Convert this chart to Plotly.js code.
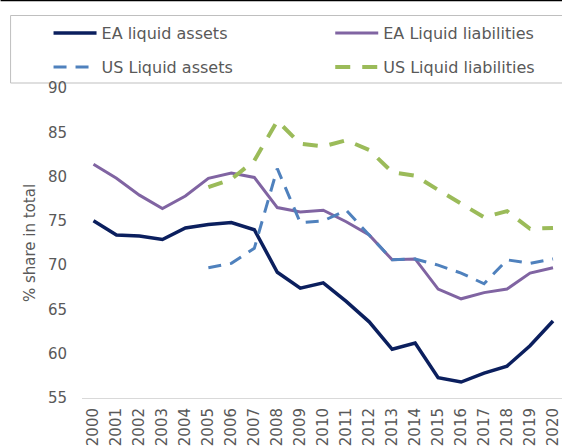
<!DOCTYPE html>
<html>
<head>
<meta charset="utf-8">
<script src="https://cdn.plot.ly/plotly-3.0.1.min.js"></script>
<style>html,body{margin:0;padding:0;background:#fff;}#chart{width:562px;height:448px;}</style>
</head>
<body>
<div id="chart"></div>
<script>
const years = ["2000","2001","2002","2003","2004","2005","2006","2007","2008","2009","2010","2011","2012","2013","2014","2015","2016","2017","2018","2019","2020"];
const eaAssets = [75.0,73.4,73.3,72.9,74.2,74.6,74.8,74.0,69.2,67.4,68.0,65.9,63.6,60.5,61.2,57.3,56.8,57.8,58.6,60.9,63.7];
const eaLiabilities = [81.4,79.8,77.9,76.4,77.8,79.8,80.4,79.9,76.5,76.0,76.2,74.9,73.4,70.6,70.7,67.3,66.2,66.9,67.3,69.1,69.7];
const usYears = ["2005","2006","2007","2008","2009","2010","2011","2012","2013","2014","2015","2016","2017","2018","2019","2020"];
const usAssets = [69.7,70.2,71.9,80.9,74.8,75.0,76.2,73.4,70.6,70.7,70.0,69.1,67.9,70.6,70.2,70.7];
const usLiabilities = [78.8,79.7,81.8,86.3,83.7,83.4,84.1,83.0,80.5,80.1,78.5,77.0,75.4,76.1,74.1,74.2];
const yTicks = [55,60,65,70,75,80,85,90];

const font = "DejaVu Sans, Verdana, sans-serif";
const grey = "#595959";

const traces = [
  {x: years, y: eaAssets, name: "EA liquid assets", type: "scatter", mode: "lines",
   line: {color: "#0b1f5e", width: 3.5}, legend: "legend"},
  {x: years, y: eaLiabilities, name: "EA Liquid liabilities", type: "scatter", mode: "lines",
   line: {color: "#8064a2", width: 3}, legend: "legend2"},
  {x: usYears, y: usAssets, name: "US Liquid assets", type: "scatter", mode: "lines",
   line: {color: "#4f81bd", width: 3, dash: "13px,9px"}, legend: "legend3"},
  {x: usYears, y: usLiabilities, name: "US Liquid liabilities", type: "scatter", mode: "lines",
   line: {color: "#9bbb59", width: 4, dash: "15px,12px"}, legend: "legend4"}
];

const plotL = 81.5, plotT = 88, plotB = 398, plotW = 562 - 81.5, plotH = plotB - plotT;
const px = v => (v - plotL) / plotW;
const py = v => (plotB - v) / plotH;

const legendCommon = {
  orientation: "h", xanchor: "left", yanchor: "middle",
  bgcolor: "rgba(0,0,0,0)", borderwidth: 0,
  font: {family: font, size: 16, color: grey},
  itemwidth: 43
};
const col1 = 48, col2 = 48 + 282, row1 = 33, row2 = 67;

const layout = {
  width: 562, height: 448,
  margin: {l: 81.5, r: 0, t: 88, b: 50, pad: 0},
  paper_bgcolor: "#fff", plot_bgcolor: "#fff",
  font: {family: font, color: grey},
  showlegend: true,
  legend: Object.assign({}, legendCommon, {x: px(col1), y: py(row1)}),
  legend2: Object.assign({}, legendCommon, {x: px(col2), y: py(row1)}),
  legend3: Object.assign({}, legendCommon, {x: px(col1), y: py(row2)}),
  legend4: Object.assign({}, legendCommon, {x: px(col2), y: py(row2)}),
  xaxis: {
    type: "category", categoryorder: "array", categoryarray: years,
    range: [-0.5, -0.5 + plotW / 23],
    tickangle: -90, tickfont: {family: font, size: 15, color: grey},
    showgrid: false, zeroline: false, showline: true, linecolor: "#d9d9d9", linewidth: 1,
    ticks: "", ticklabelstandoff: 3, fixedrange: true
  },
  yaxis: {
    range: [55, 90], tickvals: yTicks, ticktext: yTicks.map(String),
    tickfont: {family: font, size: 15, color: grey},
    showgrid: false, zeroline: false, showline: false, ticks: "",
    ticklabelstandoff: 14,
    title: {text: "% share in total", font: {family: font, size: 15, color: grey}, standoff: 8},
    fixedrange: true
  },
  shapes: [
    {type: "rect", xref: "paper", yref: "paper", x0: px(10), x1: px(575), y0: py(83), y1: py(15.5),
     line: {color: "#bfbfbf", width: 1}, fillcolor: "rgba(0,0,0,0)", layer: "below"},
    {type: "line", xref: "paper", yref: "paper", x0: px(0), x1: px(575), y0: py(0.5), y1: py(0.5),
     line: {color: "#000", width: 1.5}}
  ]
};

Plotly.newPlot("chart", traces, layout, {staticPlot: true, displayModeBar: false});
</script>
</body>
</html>
